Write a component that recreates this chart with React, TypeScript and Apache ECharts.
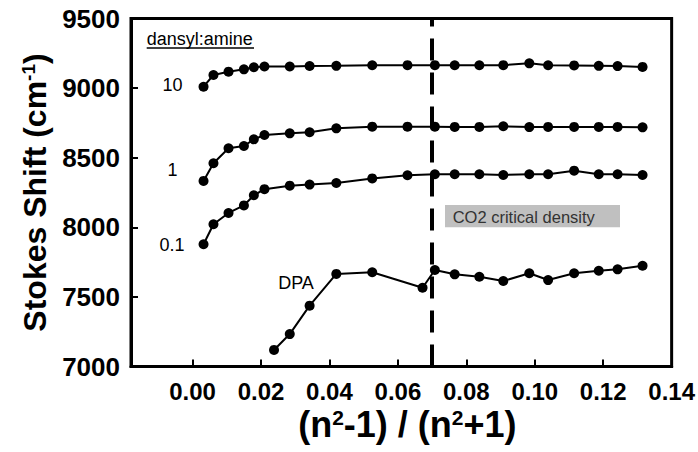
import { useEffect, useRef } from "react";
import * as echarts from "echarts";

// Shared x values, (n^2-1)/(n^2+1)
const xShared = [0.0032, 0.0061, 0.0105, 0.015, 0.0179, 0.021, 0.0284, 0.0342, 0.042, 0.0525, 0.0628, 0.0708, 0.0766, 0.0838, 0.0908, 0.0984, 0.1039, 0.1115, 0.1187, 0.1242, 0.1315];
const ratio10 = [9010, 9094, 9118, 9135, 9150, 9155, 9155, 9159, 9160, 9164, 9165, 9165, 9164, 9164, 9165, 9178, 9164, 9163, 9160, 9158, 9152];
const ratio1 = [8333, 8460, 8568, 8584, 8632, 8663, 8675, 8683, 8711, 8723, 8723, 8723, 8721, 8721, 8726, 8720, 8721, 8721, 8721, 8721, 8718];
const ratio01 = [7878, 8022, 8103, 8157, 8230, 8274, 8299, 8307, 8318, 8351, 8374, 8381, 8381, 8381, 8376, 8381, 8381, 8407, 8381, 8381, 8376];
const dpaX = [0.0238, 0.0284, 0.0342, 0.042, 0.0525, 0.0672, 0.0708, 0.0766, 0.0838, 0.0908, 0.0984, 0.1039, 0.1115, 0.1187, 0.1242, 0.1315];
const dpaY = [7119, 7233, 7437, 7665, 7677, 7566, 7693, 7662, 7645, 7614, 7670, 7621, 7670, 7688, 7698, 7724];
const criticalX = 0.0676;
const xTickValues = [0, 0.02, 0.04, 0.06, 0.08, 0.1, 0.12, 0.14];
const yTickValues = [7000, 7500, 8000, 8500, 9000, 9500];
const seriesNames = ["10", "1", "0.1", "DPA"];

const FONT = "'Liberation Sans', Arial, Helvetica, sans-serif";

export default function App() {
  const ref = useRef<HTMLDivElement>(null);
  useEffect(() => {
    const chart = echarts.init(ref.current!, null, { renderer: "svg" });
    const mk = (name: string, xs: number[], ys: number[], extra: any = {}) => ({
      type: "line",
      name,
      data: xs.map((x, i) => [x, ys[i]]),
      symbol: "circle",
      symbolSize: 10,
      itemStyle: { color: "#000" },
      lineStyle: { color: "#000", width: 2 },
      z: 3,
      ...extra,
    });
    const supStyle = { fontSize: 21, fontWeight: "bold", color: "#000", fontFamily: FONT, verticalAlign: "top" };
    chart.setOption({
      animation: false,
      backgroundColor: "#fff",
      grid: {
        left: 131,
        right: 23.5,
        top: 18.5,
        bottom: 85.5,
        show: true,
        borderColor: "#000",
        borderWidth: 3,
        backgroundColor: "transparent",
      },
      xAxis: {
        type: "value",
        min: -0.018,
        max: 0.14,
        z: 5,
        axisLine: { show: true, onZero: false, lineStyle: { color: "#000", width: 3 } },
        axisTick: {
          show: true,
          inside: true,
          length: 7,
          lineStyle: { color: "#000", width: 2 },
          customValues: xTickValues,
        },
        axisLabel: {
          customValues: xTickValues,
          formatter: (v: number) => v.toFixed(2),
          fontSize: 24,
          lineHeight: 22,
          fontWeight: "bold",
          color: "#000",
          fontFamily: FONT,
          margin: 14,
        },
        splitLine: { show: false },
        name: "(n{sup|2}-1) / (n{sup|2}+1)",
        nameLocation: "middle",
        nameMoveOverlap: false,
        nameGap: 40,
        nameTextStyle: {
          fontSize: 36,
          fontWeight: "bold",
          color: "#000",
          fontFamily: FONT,
          padding: [0, 0, 0, 12],
          rich: { sup: supStyle },
        },
      },
      yAxis: {
        type: "value",
        min: 7000,
        max: 9500,
        interval: 500,
        z: 5,
        axisLine: { show: true, onZero: false, lineStyle: { color: "#000", width: 3 } },
        axisTick: { show: true, inside: true, length: 7, lineStyle: { color: "#000", width: 2 }, customValues: yTickValues },
        axisLabel: {
          formatter: (v: number) => String(v),
          fontSize: 26,
          fontWeight: "bold",
          color: "#000",
          fontFamily: FONT,
          margin: 11,
        },
        splitLine: { show: false },
        name: "Stokes Shift (cm{sup|-1})",
        nameLocation: "middle",
        nameGap: 80,
        nameTextStyle: {
          fontSize: 32,
          fontWeight: "bold",
          color: "#000",
          fontFamily: FONT,
          rich: { sup: { ...supStyle, fontSize: 19 } },
        },
      },
      series: [
        mk(seriesNames[0], xShared, ratio10, {
          markLine: {
            silent: true,
            symbol: ["none", "none"],
            label: { show: false },
            lineStyle: { color: "#000", width: 4, type: [22, 12] },
            data: [{ xAxis: criticalX }],
          },
        }),
        mk(seriesNames[1], xShared, ratio1),
        mk(seriesNames[2], xShared, ratio01),
        mk(seriesNames[3], dpaX, dpaY),
      ],
      graphic: [
        { type: "text", left: 146.7, top: 30, style: { text: "dansyl:amine", font: `18px ${FONT}`, fill: "#000" } },
        { type: "line", shape: { x1: 146.7, y1: 48, x2: 254, y2: 48 }, style: { stroke: "#000", lineWidth: 1.5 } },
        { type: "text", x: 172.5, y: 85, style: { text: "10", font: `18px ${FONT}`, fill: "#000", align: "center", verticalAlign: "middle" } },
        { type: "text", x: 172.5, y: 170, style: { text: "1", font: `18px ${FONT}`, fill: "#000", align: "center", verticalAlign: "middle" } },
        { type: "text", x: 172, y: 245, style: { text: "0.1", font: `18px ${FONT}`, fill: "#000", align: "center", verticalAlign: "middle" } },
        { type: "text", x: 296, y: 283, style: { text: "DPA", font: `18px ${FONT}`, fill: "#000", align: "center", verticalAlign: "middle" } },
        { type: "rect", shape: { x: 445, y: 205, width: 175, height: 22.3 }, style: { fill: "#c0c0c0" } },
        { type: "text", x: 452.7, y: 216.5, style: { text: "CO2 critical density", font: `16.5px ${FONT}`, fill: "#333", verticalAlign: "middle" } },
      ],
    });
    return () => chart.dispose();
  }, []);
  return <div ref={ref} style={{ position: "fixed", left: 0, top: 0, width: 698, height: 452 }} />;
}
